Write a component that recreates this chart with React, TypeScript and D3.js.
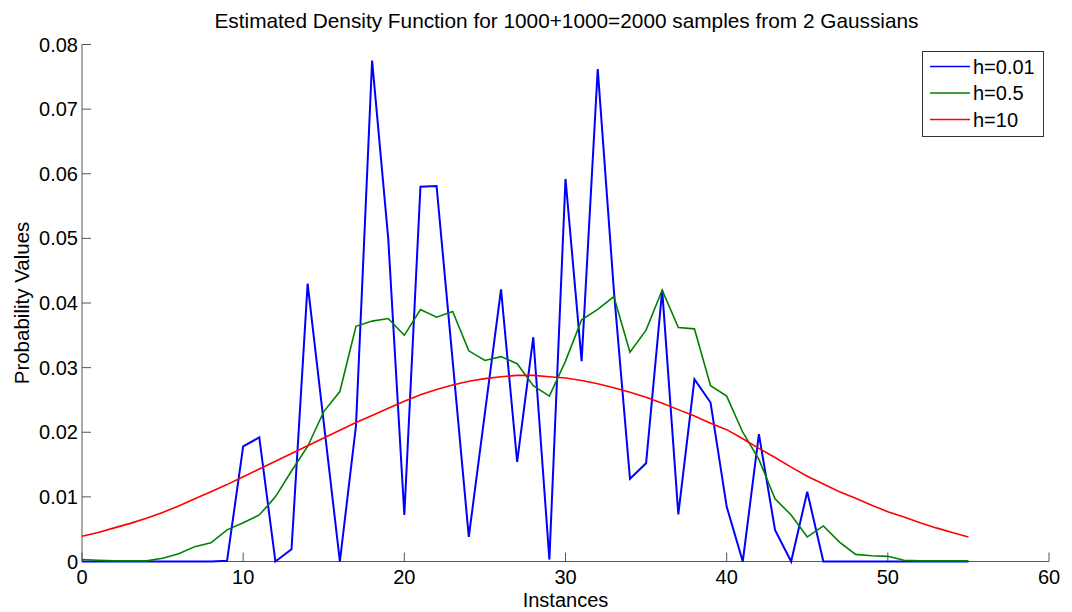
import React from "react";
import * as d3 from "d3";

const title = "Estimated Density Function for 1000+1000=2000 samples from 2 Gaussians";
const xLabel = "Instances";
const yLabel = "Probability Values";

// instances 0..55
const instances = d3.range(0, 56);

const h001 = [
  0, 0, 0, 0, 0, 0, 0, 0, 0, 0.0001,
  0.0178, 0.0192, 0, 0.0019, 0.043, 0.0215, 0, 0.021, 0.0775, 0.05,
  0.0072, 0.058, 0.0581, 0.031, 0.0038, 0.023, 0.0421, 0.0154, 0.0347, 0.0003,
  0.0592, 0.031, 0.0762, 0.042, 0.0128, 0.0152, 0.042, 0.0073, 0.0282, 0.0246,
  0.0085, 0, 0.0197, 0.0049, 0, 0.0108, 0, 0, 0, 0,
  0, 0, 0, 0, 0, 0,
];

const h05 = [
  0.0003, 0.0002, 0.0001, 0.0001, 0.0001, 0.0005, 0.0012, 0.0023, 0.0029, 0.0049,
  0.006, 0.0072, 0.01, 0.014, 0.0178, 0.0232, 0.0263, 0.0364, 0.0372, 0.0376,
  0.035, 0.039, 0.0378, 0.0387, 0.0326, 0.0311, 0.0317, 0.0306, 0.0272, 0.0256,
  0.031, 0.0374, 0.039, 0.041, 0.0324, 0.0358, 0.042, 0.0362, 0.036, 0.0272,
  0.0256, 0.02, 0.0158, 0.0097, 0.0072, 0.0038, 0.0055, 0.003, 0.0011, 0.0009,
  0.0008, 0.0002, 0.0001, 0.0001, 0.0001, 0.0001,
];

const h10 = [
  0.0039, 0.0045, 0.0052, 0.0059, 0.0067, 0.0076, 0.0086, 0.0097, 0.0108, 0.0119,
  0.0131, 0.0143, 0.0155, 0.0167, 0.0179, 0.0191, 0.0203, 0.0215, 0.0226, 0.0237,
  0.0248, 0.0258, 0.0266, 0.0273, 0.0279, 0.0283, 0.0286, 0.0288, 0.0288, 0.0286,
  0.0284, 0.028, 0.0275, 0.0269, 0.0262, 0.0254, 0.0245, 0.0235, 0.0225, 0.0214,
  0.0204, 0.019, 0.0175, 0.0161, 0.0146, 0.0132, 0.012, 0.0108, 0.0098, 0.0087,
  0.0077, 0.0069, 0.006, 0.0052, 0.0045, 0.0038,
];

const seriesNames = ["h=0.01", "h=0.5", "h=10"];
const xTicks = [0, 10, 20, 30, 40, 50, 60];
const yTicks = [0, 0.01, 0.02, 0.03, 0.04, 0.05, 0.06, 0.07, 0.08];

export default function App() {
  const width = 1072;
  const height = 612;
  const left = 82;
  const right = 1049;
  const top = 44.5;
  const bottom = 561.5;
  const font = "'Liberation Sans', Arial, Helvetica, sans-serif";

  const x = d3.scaleLinear().domain([0, 60]).range([left, right]);
  const y = d3.scaleLinear().domain([0, 0.08]).range([bottom, top]);

  const series = [
    { name: seriesNames[0], values: h001, color: "#0000ff", w: 2 },
    { name: seriesNames[1], values: h05, color: "#008000", w: 1.6 },
    { name: seriesNames[2], values: h10, color: "#ff0000", w: 1.6 },
  ];

  const line = (vals: number[]) =>
    d3.line<number>()
      .x((d, i) => x(instances[i]))
      .y((d) => y(d))(vals) || "";

  const axisColor = "#555";

  return (
    <svg width={width} height={height}
      style={{ position: "fixed", left: 0, top: 0, background: "#fff" }}
      fontFamily={font}>
      <rect x={0} y={0} width={width} height={height} fill="#fff" />
      <text x={(left + right) / 2 + 1} y={28} textAnchor="middle" fontSize={20.8} fill="#000">{title}</text>

      {/* axes */}
      <line x1={left} x2={left} y1={top} y2={bottom} stroke={axisColor} strokeWidth={1} />
      <line x1={left} x2={right} y1={bottom} y2={bottom} stroke={axisColor} strokeWidth={1} />
      {yTicks.map((t) => (
        <g key={"y" + t}>
          <line x1={left} x2={left + 9} y1={y(t)} y2={y(t)} stroke={axisColor} />
          <text x={78} y={y(t)} dy="0.35em" textAnchor="end" fontSize={20} fill="#000">
            {t === 0 ? "0" : d3.format(".2f")(t)}
          </text>
        </g>
      ))}
      {xTicks.map((t) => (
        <g key={"x" + t}>
          <line x1={x(t)} x2={x(t)} y1={bottom} y2={bottom - 9} stroke={axisColor} />
          <text x={x(t)} y={584} textAnchor="middle" fontSize={20} fill="#000">{t}</text>
        </g>
      ))}
      <text x={(left + right) / 2} y={607} textAnchor="middle" fontSize={20} fill="#000">{xLabel}</text>
      <text transform={`translate(29,${(top + bottom) / 2}) rotate(-90)`} textAnchor="middle" fontSize={20.5} fill="#000">{yLabel}</text>

      {/* lines */}
      {series.map((s) => (
        <path key={s.name} d={line(s.values)} fill="none" stroke={s.color} strokeWidth={s.w} strokeLinejoin="miter" />
      ))}

      {/* legend */}
      <g>
        <rect x={922.5} y={51.5} width={121} height={85} fill="#fff" stroke="#333" strokeWidth={1} />
        {series.map((s, i) => (
          <g key={"lg" + s.name}>
            <line x1={930} x2={970} y1={66.5 + i * 26.5} y2={66.5 + i * 26.5} stroke={s.color} strokeWidth={1.5} />
            <text x={973} y={66.5 + i * 26.5} dy="0.35em" fontSize={20} fill="#000">{s.name}</text>
          </g>
        ))}
      </g>
    </svg>
  );
}
